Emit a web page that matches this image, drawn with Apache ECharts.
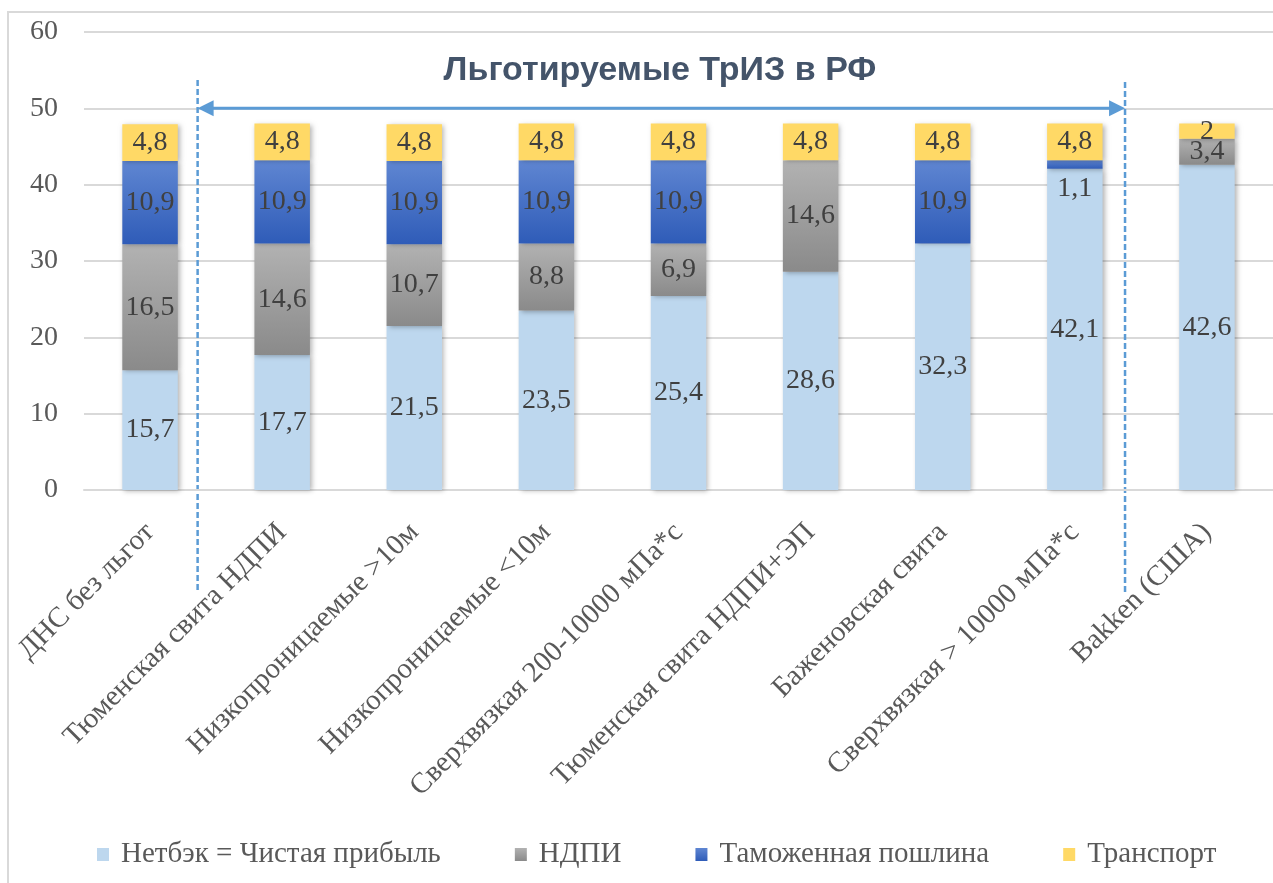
<!DOCTYPE html>
<html>
<head>
<meta charset="utf-8">
<script src="https://cdn.jsdelivr.net/npm/echarts@6/dist/echarts.min.js"></script>
<style>
  html, body { margin: 0; padding: 0; background: #fff; }
  #chart { width: 1273px; height: 883px; }
</style>
</head>
<body>
<div id="chart"></div>
<script>
// categories and values
const categories = [
  'ДНС без льгот',
  'Тюменская свита НДПИ',
  'Низкопроницаемые >10м',
  'Низкопроницаемые <10м',
  'Сверхвязкая 200-10000 мПа*с',
  'Тюменская свита НДПИ+ЭП',
  'Баженовская свита',
  'Сверхвязкая > 10000 мПа*с',
  'Bakken (США)'
];
const netback = [15.7, 17.7, 21.5, 23.5, 25.4, 28.6, 32.3, 42.1, 42.6];
const ndpi = [16.5, 14.6, 10.7, 8.8, 6.9, 14.6, null, null, 3.4];
const customs = [10.9, 10.9, 10.9, 10.9, 10.9, null, 10.9, 1.1, null];
const transport = [4.8, 4.8, 4.8, 4.8, 4.8, 4.8, 4.8, 4.8, 2];
const yTicks = [0, 10, 20, 30, 40, 50, 60];

const serif = '"Liberation Serif", "Times New Roman", serif';

function grad(top, bottom) {
  return new echarts.graphic.LinearGradient(0, 0, 0, 1, [
    { offset: 0, color: top },
    { offset: 1, color: bottom }
  ]);
}

function labelFmt(p) {
  if (p.value == null || p.value === 0) return '';
  return String(p.value).replace('.', ',');
}

function makeSeries(name, values, color) {
  return {
    name: name,
    type: 'bar',
    stack: 'total',
    barWidth: '42%',
    data: values,
    itemStyle: {
      color: color,
      shadowBlur: 5,
      shadowColor: 'rgba(0,0,0,0.3)',
      shadowOffsetX: 2,
      shadowOffsetY: 1
    },
    label: {
      show: true,
      position: 'inside',
      formatter: labelFmt,
      fontFamily: serif,
      fontSize: 28,
      color: '#404040'
    }
  };
}

const chart = echarts.init(document.getElementById('chart'));

// the 1,1 label sits below its thin segment in the original
const customsData = customs.map(function (v) {
  if (v !== null && v < 2) return { value: v, label: { offset: [0, 24] } };
  return v;
});

chart.setOption({
  animation: false,
  textStyle: { fontFamily: serif },
  grid: { left: 84, right: -3, top: 32, bottom: 393, containLabel: false },
  legend: {
    bottom: 9,
    left: 92,
    itemWidth: 12,
    itemHeight: 13,
    itemGap: 74,
    icon: 'rect',
    textStyle: { fontFamily: serif, fontSize: 29, color: '#595959', padding: [0, 0, 0, 7] },
    data: ['Нетбэк = Чистая прибыль', 'НДПИ', 'Таможенная пошлина', 'Транспорт']
  },
  xAxis: {
    type: 'category',
    data: categories,
    axisLine: { lineStyle: { color: '#d9d9d9', width: 2 } },
    axisTick: { show: false },
    axisLabel: {
      rotate: 45,
      interval: 0,
      margin: 38,
      fontFamily: serif,
      fontSize: 29,
      color: '#595959'
    }
  },
  yAxis: {
    type: 'value',
    min: yTicks[0],
    max: yTicks[yTicks.length - 1],
    interval: 10,
    axisLine: { show: false },
    axisTick: { show: false },
    splitLine: { lineStyle: { color: '#d9d9d9', width: 2 } },
    axisLabel: { fontFamily: serif, fontSize: 28, color: '#595959', margin: 26 }
  },
  series: [
    makeSeries('Нетбэк = Чистая прибыль', netback, '#bdd7ee'),
    makeSeries('НДПИ', ndpi, grad('#b2b2b2', '#8a8a8a')),
    makeSeries('Таможенная пошлина', customsData, grad('#5f86d2', '#2f5cb8')),
    makeSeries('Транспорт', transport, '#ffd966')
  ]
});

// annotation: bracket of the privileged group
function drawAnnotation() {
  const x0 = chart.convertToPixel({ xAxisIndex: 0 }, 0);
  const x1 = chart.convertToPixel({ xAxisIndex: 0 }, 1);
  const step = x1 - x0;
  const leftX = x0 + 0.36 * step;
  const rightX = x0 + 7.38 * step;
  const arrowY = chart.convertToPixel({ yAxisIndex: 0 }, 50);
  const blue = '#5b9bd5';
  chart.setOption({
    graphic: [
      {
        type: 'rect',
        shape: { x: 8, y: 12, width: 1290, height: 900 },
        style: { fill: 'none', stroke: '#d9d9d9', lineWidth: 2 },
        silent: true
      },
      {
        type: 'text',
        x: 660,
        y: 71,
        style: {
          text: 'Льготируемые ТрИЗ в РФ',
          fontFamily: '"Liberation Sans", Arial, sans-serif',
          fontWeight: 'bold',
          fontSize: 34,
          fill: '#44546a',
          align: 'center',
          verticalAlign: 'middle'
        }
      },
      {
        type: 'line',
        shape: { x1: leftX, y1: 80, x2: leftX, y2: 593 },
        style: { stroke: blue, lineWidth: 2.5, lineDash: [6, 3] }
      },
      {
        type: 'line',
        shape: { x1: rightX, y1: 82, x2: rightX, y2: 593 },
        style: { stroke: blue, lineWidth: 2.5, lineDash: [6, 3] }
      },
      {
        type: 'line',
        shape: { x1: leftX + 12, y1: arrowY, x2: rightX - 12, y2: arrowY },
        style: { stroke: blue, lineWidth: 3 }
      },
      {
        type: 'polygon',
        shape: { points: [[leftX, arrowY], [leftX + 16, arrowY - 8], [leftX + 16, arrowY + 8]] },
        style: { fill: blue }
      },
      {
        type: 'polygon',
        shape: { points: [[rightX, arrowY], [rightX - 16, arrowY - 8], [rightX - 16, arrowY + 8]] },
        style: { fill: blue }
      }
    ]
  });
}
drawAnnotation();
</script>
</body>
</html>
